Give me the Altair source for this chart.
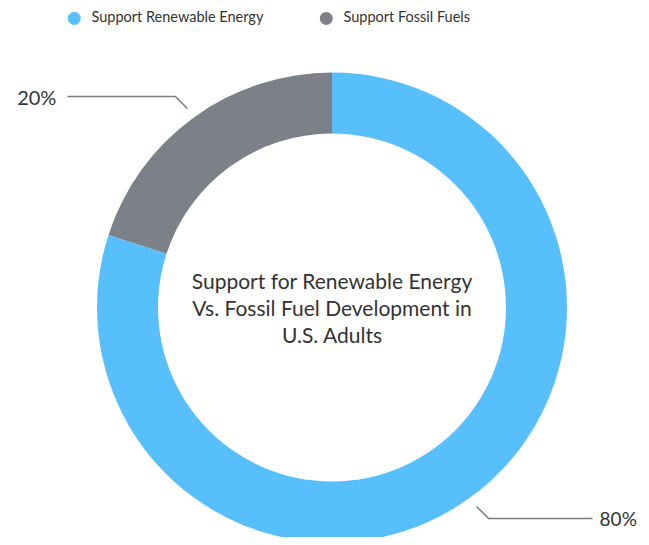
import math
import altair as alt
import pandas as pd

categories = ["Support Renewable Energy", "Support Fossil Fuels"]
values = [80, 20]
pct_labels = ["80%", "20%"]
colors = ["#57bffc", "#7b8089"]
title_lines = ["Support for Renewable Energy", "Vs. Fossil Fuel Development in", "U.S. Adults"]

W, H = 633, 529
CX, CY = 324, 299.5
R_OUT, R_IN = 235, 174
R1, DIAG = 246, 12

df = pd.DataFrame({"category": categories, "value": values, "order": list(range(len(values)))})

# leader lines derived from slice mid-angles
total = sum(values)
rows, lab = [], []
cum = 0
for cat, v, lbl in zip(categories, values, pct_labels):
    mid = (cum + v / 2) / total * 2 * math.pi
    cum += v
    s, c = math.sin(mid), math.cos(mid)
    side = 1 if s >= 0 else -1
    vside = 1 if c < 0 else -1
    hlen, gap = (104, 7) if side > 0 else (108, 11)
    p1 = (CX + R1 * s, CY - R1 * c)
    p2 = (p1[0] + side * DIAG, p1[1] + vside * DIAG)
    p3 = (p2[0] + side * hlen, p2[1])
    for i, p in enumerate([p1, p2, p3]):
        rows.append({"category": cat, "seq": i, "px": p[0], "py": p[1]})
    lab.append({"category": cat, "label": lbl, "side": "right" if side > 0 else "left",
                "px": p3[0] + side * gap, "py": p3[1] + (1 if side > 0 else 2.5)})
lines_df = pd.DataFrame(rows)
lab_df = pd.DataFrame(lab)

arc = alt.Chart(df).mark_arc(outerRadius=R_OUT, innerRadius=R_IN).encode(
    theta=alt.Theta("value:Q", stack=True),
    order=alt.Order("order:Q"),
    color=alt.Color(
        "category:N",
        scale=alt.Scale(domain=categories, range=colors),
        legend=alt.Legend(
            orient="none", legendX=59, legendY=3, direction="horizontal", title=None,
            symbolType="circle", symbolSize=169, symbolStrokeWidth=0,
            labelFont="Lato", labelFontSize=14.5, labelColor="#333333", labelLimit=400,
            labelOffset=10, columnPadding=55, padding=0,
        ),
    ),
    x=alt.value(CX),
    y=alt.value(CY),
)

leaders = alt.Chart(lines_df).mark_line(color="#7d7d7d", strokeWidth=1.5).encode(
    x=alt.X("px:Q", scale=None, axis=None),
    y=alt.Y("py:Q", scale=None, axis=None),
    detail="category:N",
    order="seq:Q",
)

lab_left = alt.Chart(lab_df).transform_filter(alt.datum.side == "left").mark_text(
    align="right", baseline="middle", font="Lato", fontSize=20, color="#333333"
).encode(x=alt.X("px:Q", scale=None, axis=None), y=alt.Y("py:Q", scale=None, axis=None), text="label:N")

lab_right = alt.Chart(lab_df).transform_filter(alt.datum.side == "right").mark_text(
    align="left", baseline="middle", font="Lato", fontSize=19, color="#333333"
).encode(x=alt.X("px:Q", scale=None, axis=None), y=alt.Y("py:Q", scale=None, axis=None), text="label:N")

center = alt.Chart(pd.DataFrame({"t": ["\n".join(title_lines)]})).mark_text(
    align="center", baseline="middle", font="Lato", fontSize=21, lineHeight=27,
    lineBreak="\n", color="#333333"
).encode(text="t:N", x=alt.value(CX), y=alt.value(CY + 2 - 27))

chart = alt.layer(arc, leaders, lab_left, lab_right, center).properties(
    width=W, height=H, padding=0, autosize=alt.AutoSizeParams(type="none")
).configure_view(stroke=None)

chart.save("out.html", embed_options={"renderer": "svg", "actions": False})
